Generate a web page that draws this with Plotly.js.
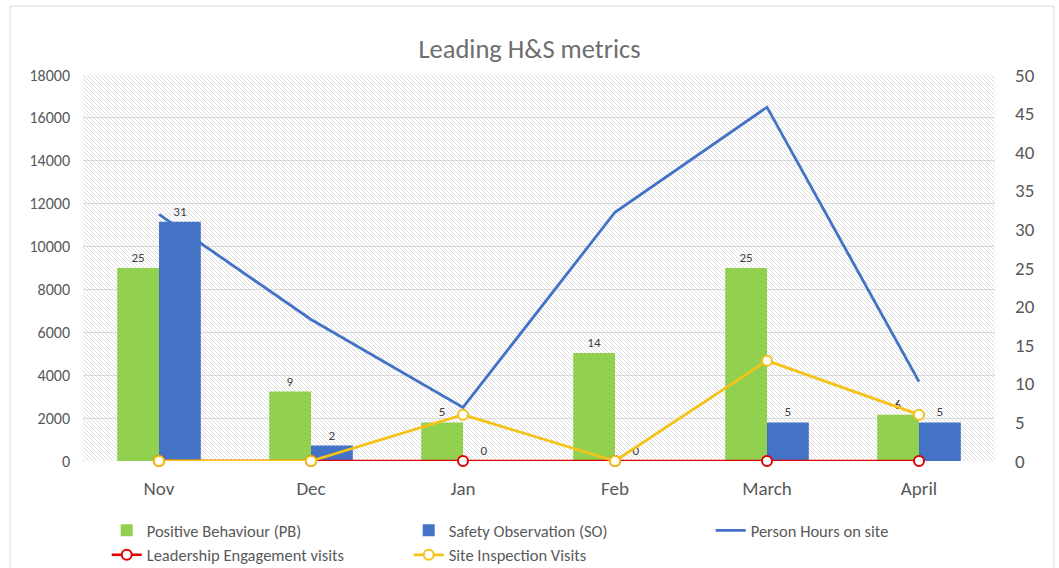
<!DOCTYPE html>
<html>
<head>
<meta charset="utf-8">
<script src="https://cdn.plot.ly/plotly-3.0.1.min.js"></script>
<style>html,body{margin:0;padding:0;background:#fff;}#chart{width:1059px;height:568px;}</style>
</head>
<body>
<div id="chart"></div>
<script>
const categories = ["Nov", "Dec", "Jan", "Feb", "March", "April"];
const positiveBehaviour = [25, 9, 5, 14, 25, 6];
const safetyObservation = [31, 2, 0, 0, 5, 5];
const personHours = [11500, 6600, 2500, 11600, 16500, 3700];
const leadershipVisits = [0, 0, 0, 0, 0, 0];
const siteInspectionVisits = [0, 0, 6, 0, 13, 6];
const leftTicks = [0, 2000, 4000, 6000, 8000, 10000, 12000, 14000, 16000, 18000];
const rightTicks = [0, 5, 10, 15, 20, 25, 30, 35, 40, 45, 50];

const FONT = "Calibri, Carlito, Lato, 'Open Sans', sans-serif";
const GREY = "#595959";

const hatchSvg = '<svg xmlns="http://www.w3.org/2000/svg" width="912" height="386" preserveAspectRatio="none">' +
  '<defs><pattern id="h" width="4" height="4" patternUnits="userSpaceOnUse">' +
  '<rect width="4" height="4" fill="#ffffff"/>' +
  '<path d="M-1,-1 L5,5 M-1,3 L1,5 M3,-1 L5,1" stroke="#dcdcdc" stroke-width="1"/>' +
  '</pattern></defs><rect width="912" height="386" fill="url(#h)"/></svg>';

const traces = [
  {
    type: "bar", name: "Positive Behaviour (PB)", x: categories, y: positiveBehaviour,
    yaxis: "y2", marker: {color: "#92D050"},
    text: positiveBehaviour.map(String), textposition: "outside",
    textfont: {size: 13, color: "#404040", family: FONT}, cliponaxis: false
  },
  {
    type: "bar", name: "Safety Observation (SO)", x: categories, y: safetyObservation,
    yaxis: "y2", marker: {color: "#4472C4"},
    text: safetyObservation.map(String), textposition: "outside",
    textfont: {size: 13, color: "#404040", family: FONT}, cliponaxis: false
  },
  {
    type: "scatter", mode: "lines", name: "Person Hours on site", x: categories, y: personHours,
    yaxis: "y", line: {color: "#4472C4", width: 2.8}
  },
  {
    type: "scatter", mode: "lines+markers", name: "Leadership Engagement visits", x: categories, y: leadershipVisits,
    yaxis: "y2", line: {color: "#E00000", width: 2.5},
    marker: {symbol: "circle", size: 10, color: "#ffffff", line: {color: "#E00000", width: 2}},
    cliponaxis: false
  },
  {
    type: "scatter", mode: "lines+markers", name: "Site Inspection Visits", x: categories, y: siteInspectionVisits,
    yaxis: "y2", line: {color: "#F5C218", width: 2.8},
    marker: {symbol: "circle", size: 10, color: "#ffffff", line: {color: "#F5C218", width: 2}},
    cliponaxis: false
  }
];

const layout = {
  width: 1059, height: 568,
  margin: {l: 83, r: 64, t: 75, b: 107, autoexpand: false},
  paper_bgcolor: "#ffffff", plot_bgcolor: "rgba(0,0,0,0)",
  font: {family: FONT, color: GREY, size: 14},
  title: {text: "Leading H&S metrics", x: 0.5, xref: "container", y: 1 - 49/568, yanchor: "middle",
    font: {family: FONT, size: 26.5, color: "#6e6e6e"}},
  barmode: "group", bargap: 0.45, bargroupgap: 0,
  showlegend: true,
  legend: {orientation: "h", x: 0.026, xanchor: "left", y: -0.135, yanchor: "top",
    entrywidth: 257, entrywidthmode: "pixels", traceorder: "normal",
    font: {family: FONT, size: 16.5, color: GREY}, bgcolor: "rgba(0,0,0,0)"},
  xaxis: {type: "category", showgrid: false, zeroline: false, showline: false, ticks: "",
    tickfont: {size: 19, color: GREY, family: FONT}, ticklabelstandoff: 14},
  yaxis: {range: [0, 18000], tickvals: leftTicks, ticktext: leftTicks.map(String),
    showgrid: true, gridcolor: "#d9d9d9", gridwidth: 1, zeroline: false, showline: false,
    tickfont: {size: 16, color: GREY, family: FONT}, ticklabelstandoff: 12},
  yaxis2: {range: [0, 50], tickvals: rightTicks, ticktext: rightTicks.map(String),
    overlaying: "y", side: "right", showgrid: false, zeroline: false, showline: false,
    tickfont: {size: 19, color: GREY, family: FONT}, ticklabelstandoff: 19},
  images: [{
    source: "data:image/svg+xml;charset=utf-8," + encodeURIComponent(hatchSvg),
    xref: "paper", yref: "paper", x: 0, y: 1, sizex: 1, sizey: 1,
    sizing: "stretch", layer: "below", xanchor: "left", yanchor: "top"
  }],
  shapes: [{
    type: "rect", xref: "paper", yref: "paper",
    x0: -73/912, x1: 1 + 59/912, y0: -115/386, y1: 1 + 69/386,
    line: {color: "#d9d9d9", width: 1}, fillcolor: "rgba(0,0,0,0)", layer: "below"
  }]
};

Plotly.newPlot("chart", traces, layout, {displayModeBar: false, staticPlot: true});
</script>
</body>
</html>
